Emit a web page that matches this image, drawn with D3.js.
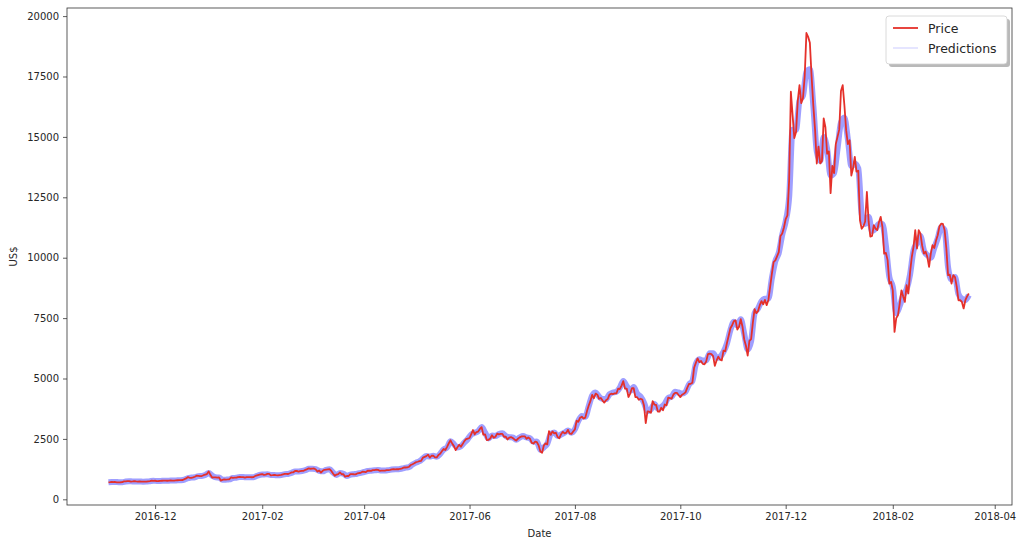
<!DOCTYPE html>
<html>
<head>
<meta charset="utf-8">
<script src="https://cdn.jsdelivr.net/npm/d3@7/dist/d3.min.js"></script>
<style>
body { margin: 0; background: #fff; }
svg { display: block; font-family: "DejaVu Sans", sans-serif; }
</style>
</head>
<body>
<svg id="chart" width="1024" height="557"></svg>
<script>
// first plotted day, one price per day after it
const startDate = "2016-11-04";

const price = [
    703, 711, 723, 716, 716, 705, 702, 706, 715, 744, 741, 751, 751, 731, 739, 751, 741, 735, 740, 733, 729, 734, 733, 743,
    754, 772, 765, 769, 757, 759, 764, 768, 770, 774, 769, 778, 780, 778, 778, 784, 790, 791, 793, 800, 834, 864, 921, 891, 891, 907, 933, 976, 973, 961, 963,
    998, 1021, 1044, 1154, 1013, 903, 908, 911, 902, 908, 777, 804, 827, 818, 822, 831, 907, 886, 899, 895, 921, 925, 921, 919, 895, 915, 918, 920, 914, 920, 970,
    989, 1009, 1030, 1040, 1016, 1025, 1052, 1055, 991, 999, 1012, 999, 991, 1004, 1008, 1032, 1052, 1054, 1048, 1080, 1115, 1118, 1173, 1176, 1143, 1165, 1180, 1180,
    1222, 1251, 1284, 1265, 1273, 1277, 1235, 1149, 1191, 1104, 1179, 1222, 1231, 1240, 1250, 1177, 1072, 972, 1024, 1045, 1115, 1038, 1037, 938, 965, 966, 1045, 1045, 1038, 1033, 1072,
    1089, 1099, 1143, 1134, 1124, 1183, 1190, 1181, 1205, 1207, 1226, 1218, 1180, 1185, 1186, 1187, 1205, 1212, 1218, 1239, 1250, 1242, 1250, 1245, 1265, 1281, 1317, 1317, 1322, 1348,
    1421, 1453, 1491, 1537, 1555, 1578, 1596, 1723, 1755, 1787, 1848, 1724, 1804, 1808, 1739, 1734, 1839, 1888, 1987, 2084, 2041, 2173, 2321, 2443, 2305, 2202, 2038, 2155, 2255, 2175, 2286,
    2407, 2488, 2515, 2538, 2700, 2868, 2690, 2786, 2805, 2912, 2987, 2675, 2690, 2453, 2465, 2519, 2655, 2548, 2590, 2721, 2689, 2706, 2710, 2590, 2589, 2478, 2552, 2574, 2540, 2481,
    2434, 2507, 2564, 2601, 2602, 2609, 2502, 2561, 2506, 2333, 2310, 2386, 2363, 2233, 1978, 1930, 2229, 2318, 2273, 2818, 2668, 2810, 2730, 2755, 2576, 2530, 2696, 2793, 2726, 2758, 2876,
    2718, 2710, 2805, 2895, 3252, 3213, 3379, 3420, 3342, 3381, 3651, 3884, 4074, 4326, 4182, 4376, 4331, 4160, 4194, 4087, 4001, 4100, 4151, 4334, 4372, 4352, 4382, 4382, 4579, 4565, 4703,
    4892, 4578, 4582, 4236, 4376, 4597, 4599, 4228, 4226, 4122, 4162, 4130, 3882, 3154, 3637, 3625, 3583, 4065, 3924, 3905, 3631, 3630, 3792, 3682, 3926, 3892, 4209, 4193, 4164, 4338,
    4403, 4409, 4318, 4229, 4329, 4370, 4426, 4611, 4773, 4782, 4826, 5447, 5647, 5831, 5678, 5725, 5605, 5590, 5708, 6011, 6031, 6008, 5930, 5526, 5750, 5904, 5780, 5753, 6153, 6130, 6468,
    6767, 7078, 7207, 7379, 7407, 7022, 7144, 7459, 7143, 6618, 6357, 5950, 6559, 6635, 7315, 7871, 7708, 7790, 8036, 8200, 8071, 8253, 8038, 8253, 8791, 9330, 9819, 9888, 10058, 10233,
    10900, 11000, 11250, 11600, 11750, 13200, 16870, 15900, 14950, 15200, 16500, 17140, 16400, 16600, 17500, 19300, 19140, 18900, 17500, 16300, 15300, 13900, 14600, 13900, 14000, 15770, 15400, 14300, 14400, 12670, 13800,
    13500, 14700, 15000, 15300, 16900, 17140, 16300, 15280, 14700, 14860, 13400, 13700, 14170, 13560, 13600, 11550, 11200, 11300, 11500, 12720, 11500, 10870, 10900, 11350, 11200, 11140, 11480, 11690, 11280, 10170, 10200,
    9900, 8930, 9000, 8650, 6930, 7500, 7620, 8100, 8650, 8400, 8170, 8860, 8520, 9400, 10030, 10450, 11140, 10380, 11140, 11000, 10500, 10170, 10250, 10030, 9620, 10170, 10520, 10400,
    10700, 10930, 11300, 11410, 11400, 11140, 10380, 9275, 9300, 8930, 9275, 9200, 8800, 8240, 8240, 8170, 7900, 8240, 8400, 8520
];

// predictions, read every 2nd day from the start date
const predictions = [
    705, 715, 718, 708, 710, 735, 748, 742, 742, 740, 732, 733,
    748, 765, 762, 762, 768, 770, 777, 778, 787, 792, 815, 880, 900, 915, 960, 965,
    1005, 1090, 980, 910, 905, 810, 815, 825, 880, 893, 920, 920, 910, 918, 918,
    975, 1020, 1025, 1040, 1010, 1005, 995, 1005, 1040, 1050, 1095, 1150, 1155, 1170,
    1205, 1265, 1270, 1250, 1180, 1160, 1220, 1245, 1110, 1010, 1085, 1060, 970, 1020, 1040, 1060,
    1095, 1130, 1170, 1185, 1200, 1215, 1195, 1190, 1208, 1232, 1245, 1248, 1275, 1310, 1340,
    1440, 1520, 1575, 1690, 1790, 1770, 1800, 1760, 1880, 2060, 2150, 2400, 2280, 2150, 2200,
    2350, 2500, 2680, 2750, 2820, 2990, 2760, 2520, 2640, 2620, 2700, 2730, 2620, 2570, 2560,
    2470, 2560, 2620, 2560, 2530, 2380, 2390, 2050, 2150, 2300, 2700, 2770, 2620, 2680, 2760, 2850,
    2760, 2900, 3250, 3450, 3420, 3850, 4300, 4420, 4250, 4150, 4150, 4350, 4420, 4450, 4620,
    4900, 4680, 4480, 4650, 4380, 4250, 4000, 3650, 3720, 3950, 3750, 3820, 3950, 4200, 4250,
    4450, 4420, 4380, 4450, 4750, 4900, 5600, 5800, 5750, 5750, 6050, 6050, 5850, 5900, 6100, 6450,
    7000, 7350, 7200, 7450, 6850, 6200, 6550, 7700, 7900, 8200, 8300, 8300, 9150, 9850, 10200,
    10950, 11500, 12500, 15300, 15300, 16500, 16700, 17700, 17800, 16300, 14400, 14000, 15000, 14500, 13400,
    13500, 14500, 15600, 15800, 14900, 13800, 13900, 13700, 11800, 11400, 11700, 11100, 11200, 11400, 11400, 10500,
    9200, 8800, 7700, 8000, 8450, 8700, 9300, 10300, 10600, 10900, 10300, 10100, 10000, 10400,
    10800, 11250, 11150, 9600, 9100, 9200, 8500, 8300, 8250, 8450
];

const xTickLabels = ["2016-12", "2017-02", "2017-04", "2017-06", "2017-08", "2017-10", "2017-12", "2018-02", "2018-04"];
const yTickValues = [0, 2500, 5000, 7500, 10000, 12500, 15000, 17500, 20000];
const xLimits = ["2016-10-11", "2018-04-11"];
const yLimits = [-235, 20335];

const svg = d3.select("#chart");
const plotLeft = 67, plotRight = 1012, plotTop = 8, plotBottom = 505;

const parse = d3.utcParse("%Y-%m-%d");
const parseMonth = d3.utcParse("%Y-%m");
const fmtMonth = d3.utcFormat("%Y-%m");
const start = parse(startDate);

const priceData = price.map((v, i) => ({date: d3.utcDay.offset(start, i), value: v}));
const predData = predictions.map((v, i) => ({date: d3.utcDay.offset(start, i * 2), value: v}));

const x = d3.scaleUtc().domain(xLimits.map(parse)).range([plotLeft, plotRight]);
const y = d3.scaleLinear().domain(yLimits).range([plotBottom, plotTop]);

svg.append("clipPath").attr("id", "plotclip")
    .append("rect").attr("x", plotLeft).attr("y", plotTop)
    .attr("width", plotRight - plotLeft).attr("height", plotBottom - plotTop);

const plot = svg.append("g").attr("clip-path", "url(#plotclip)");

// predictions: a soft blue band under the price
plot.append("path")
    .datum(predData)
    .attr("fill", "none")
    .attr("stroke", "#7676ff")
    .attr("stroke-opacity", 0.7)
    .attr("stroke-width", 6)
    .attr("stroke-linejoin", "round")
    .attr("d", d3.line().curve(d3.curveMonotoneX).x(d => x(d.date)).y(d => y(d.value)));

plot.append("path")
    .datum(priceData)
    .attr("fill", "none")
    .attr("stroke", "#e5302a")
    .attr("stroke-width", 1.8)
    .attr("stroke-linejoin", "round")
    .attr("d", d3.line().x(d => x(d.date)).y(d => y(d.value)));

// axes
const xAxis = d3.axisBottom(x)
    .tickValues(xTickLabels.map(parseMonth))
    .tickFormat(fmtMonth)
    .tickSize(4)
    .tickPadding(4);
const yAxis = d3.axisLeft(y)
    .tickValues(yTickValues)
    .tickFormat(d3.format("d"))
    .tickSize(4)
    .tickPadding(4);

const gx = svg.append("g").attr("transform", `translate(0,${plotBottom})`).call(xAxis);
const gy = svg.append("g").attr("transform", `translate(${plotLeft},0)`).call(yAxis);
[gx, gy].forEach(g => {
    g.select(".domain").remove();
    g.selectAll("line").attr("stroke", "#333").attr("stroke-width", 0.8);
    g.selectAll("text").attr("fill", "#262626").style("font-size", "10px").style("font-family", "DejaVu Sans");
});

// frame
svg.append("rect")
    .attr("x", plotLeft).attr("y", plotTop)
    .attr("width", plotRight - plotLeft).attr("height", plotBottom - plotTop)
    .attr("fill", "none").attr("stroke", "#333").attr("stroke-width", 0.8);

svg.append("text")
    .attr("x", (plotLeft + plotRight) / 2).attr("y", 537)
    .attr("text-anchor", "middle")
    .attr("fill", "#262626").style("font-size", "10px")
    .text("Date");

svg.append("text")
    .attr("transform", `translate(17,${(plotTop + plotBottom) / 2}) rotate(-90)`)
    .attr("text-anchor", "middle")
    .attr("fill", "#262626").style("font-size", "10px")
    .text("US$");

// legend with shadow
const lg = svg.append("g").attr("transform", "translate(886,16)");
lg.append("rect").attr("x", 3).attr("y", 3).attr("width", 121).attr("height", 48).attr("rx", 3)
    .attr("fill", "#808080").attr("fill-opacity", 0.55);
lg.append("rect").attr("width", 121).attr("height", 48).attr("rx", 3)
    .attr("fill", "#fff").attr("stroke", "#d0d0d0").attr("stroke-width", 0.8);
const items = [
    {label: "Price", color: "#e5302a"},
    {label: "Predictions", color: "#e3e3ff"}
];
items.forEach((it, i) => {
    const yy = 12 + i * 20;
    lg.append("line").attr("x1", 7).attr("x2", 32).attr("y1", yy).attr("y2", yy)
        .attr("stroke", it.color).attr("stroke-width", 1.8);
    lg.append("text").attr("x", 42).attr("y", yy + 4.5)
        .attr("fill", "#262626").style("font-size", "12.5px")
        .text(it.label);
});
</script>
</body>
</html>
